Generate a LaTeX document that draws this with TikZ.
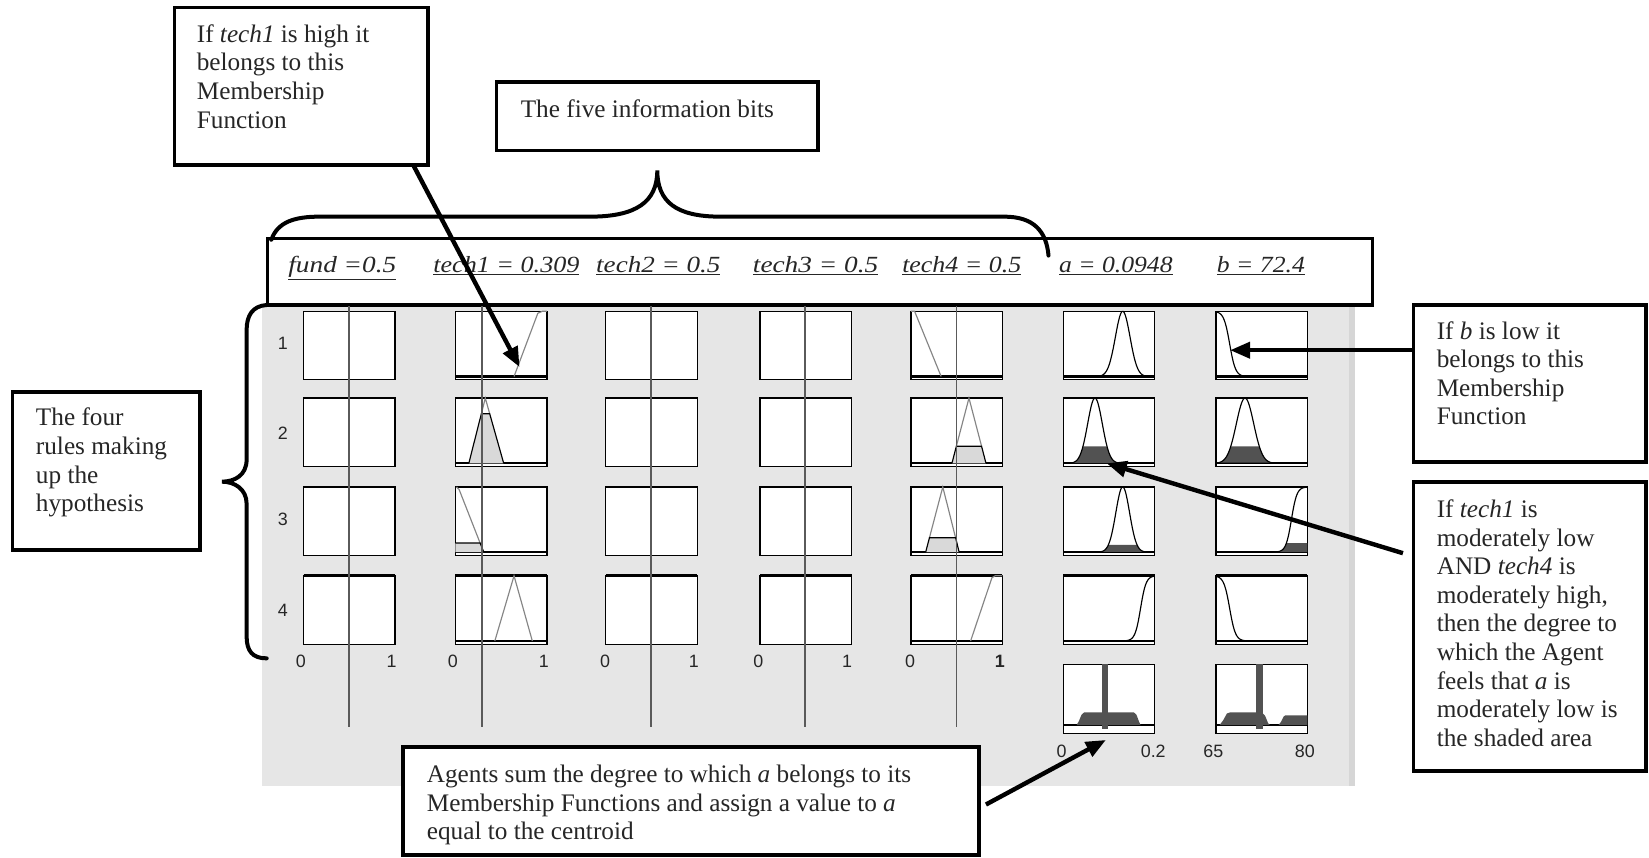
\documentclass[tikz,border=0pt]{standalone}
\usepackage{fontspec}
\setmainfont{Liberation Serif}
\newfontfamily\arialf{Liberation Sans}
\usetikzlibrary{arrows.meta}
\definecolor{panelgray}{HTML}{E6E6E6}
\definecolor{paneledge}{HTML}{D6D6D6}
\definecolor{lightfill}{HTML}{D9D9D9}
\definecolor{darkfill}{HTML}{525252}
\definecolor{mfline}{HTML}{858585}
\definecolor{invline}{HTML}{5A5A5A}
\tikzset{
  callout/.style={draw=black, line width=3.5pt, fill=white, inner sep=0pt, outer sep=0pt, anchor=north west},
  calltext/.style={inner sep=0pt, anchor=base west, text=black!85, font=\fontsize{24}{27.2}\selectfont},
  ptr/.style={line width=4.2pt, -{Triangle[length=19pt,width=15pt]}},
  bracel/.style={line width=3.8pt, line cap=round},
  mfbox/.style={draw=black, line width=1.2pt, fill=white},
  baseln/.style={line width=2.2pt},
  thickedge/.style={line width=2.6pt},
  mfl/.style={draw=mfline, line width=1.1pt},
  mfk/.style={draw=black, line width=1.1pt},
  invl/.style={draw=invline, line width=1.6pt},
  axlbl/.style={font=\arialf\fontsize{17}{17}\selectfont, inner sep=0pt, text=black!85},
  hdrlbl/.style={font=\fontsize{22}{22}\selectfont\itshape, inner sep=0pt, anchor=base, text=black!85},
}
\begin{document}
\begin{tikzpicture}[x=1pt,y=-1pt]
\useasboundingbox (0,0) rectangle (1568,815);
\fill[white] (0,0) rectangle (1568,815);
% grey viewer panel
\fill[panelgray] (249,291) rectangle (1288,747);
\fill[paneledge] (1283,291) rectangle (1288,747);
% header box
\node[draw=black, line width=3pt, fill=white, inner sep=0pt, outer sep=0pt, anchor=north west,
      minimum width=1051pt, minimum height=63.4pt] (hdr) at (254,226.6) {};
\node[hdrlbl] (hfund) at (325.5,259) {\scalebox{1.18}[1]{\underline{fund =0.5}}};
\node[hdrlbl] (htech1) at (481.5,259) {\scalebox{1.13}[1]{\underline{tech1 = 0.309}}};
\node[hdrlbl] (htech2) at (626,259) {\scalebox{1.17}[1]{\underline{tech2 = 0.5}}};
\node[hdrlbl] (htech3) at (775.5,259) {\scalebox{1.18}[1]{\underline{tech3 = 0.5}}};
\node[hdrlbl] (htech4) at (914.5,259) {\scalebox{1.12}[1]{\underline{tech4 = 0.5}}};
\node[hdrlbl] (ha) at (1061,259) {\scalebox{1.11}[1]{\underline{a = 0.0948}}};
\node[hdrlbl] (hb) at (1199,259) {\scalebox{1.11}[1]{\underline{b = 72.4}}};

% membership-function boxes
\foreach \cx in {288.7,433.1,576.1,722.7,866.2,1011,1156.2} {
  \foreach \ry in {296,378.5,463,547.5} {
    \draw[mfbox] (\cx,\ry) rectangle ++(87,65);
  }
  \draw[thickedge] (\cx,547.5) -- ++(87,0);
}
\foreach \cx in {433.1,866.2,1011,1156.2} {
  \foreach \by in {358,440.5,525,609.5} {
    \draw[baseln] (\cx,\by) -- ++(87,0);
  }
}
\foreach \ry in {296,378.5,463,547.5} \draw[thickedge] (866.2,\ry) -- ++(0,65);
% output boxes
\draw[mfbox] (1011,631.7) rectangle ++(87,65.6);
\draw[mfbox] (1156.2,631.7) rectangle ++(87,65.6);
\draw[baseln] (1011,689.4) -- ++(87,0);
\draw[baseln] (1156.2,689.4) -- ++(87,0);

% tech1 column
\begin{scope}[shift={(433.1,358)},x=87pt,y=62pt]
  \draw[mfl] (0.64,0) -- (0.9,0.97) -- (0.95,1) -- (1,1);
\end{scope}
\begin{scope}[shift={(433.1,440.5)},x=87pt,y=62pt]
  \fill[lightfill] (0.146,0) -- (0.283,0.76) -- (0.374,0.76) -- (0.527,0) -- cycle;
  \draw[mfl] (0.283,0.76) -- (0.326,1) -- (0.374,0.76);
  \draw[mfk] (0.146,0) -- (0.283,0.76) -- (0.374,0.76) -- (0.527,0);
\end{scope}
\begin{scope}[shift={(433.1,525)},x=87pt,y=62pt]
  \fill[lightfill] (0,0) -- (0,0.14) -- (0.269,0.14) -- (0.31,0) -- cycle;
  \draw[mfl] (0.01,1) -- (0.04,0.96) -- (0.269,0.14);
  \draw[mfk] (0,0.14) -- (0.269,0.14) -- (0.31,0);
\end{scope}
\begin{scope}[shift={(433.1,609.5)},x=87pt,y=62pt]
  \draw[mfl] (0.43,0) -- (0.64,1) -- (0.84,0);
\end{scope}
% tech4 column
\begin{scope}[shift={(866.2,358)},x=87pt,y=62pt]
  \draw[mfl] (0,1) -- (0.04,1) -- (0.33,0);
\end{scope}
\begin{scope}[shift={(866.2,440.5)},x=87pt,y=62pt]
  \fill[lightfill] (0.448,0) -- (0.496,0.26) -- (0.772,0.26) -- (0.82,0) -- cycle;
  \draw[mfl] (0.496,0.26) -- (0.634,1) -- (0.772,0.26);
  \draw[mfk] (0.448,0) -- (0.496,0.26) -- (0.772,0.26) -- (0.82,0);
\end{scope}
\begin{scope}[shift={(866.2,525)},x=87pt,y=62pt]
  \fill[lightfill] (0.161,0) -- (0.202,0.22) -- (0.488,0.22) -- (0.527,0) -- cycle;
  \draw[mfl] (0.202,0.22) -- (0.348,1) -- (0.488,0.22);
  \draw[mfk] (0.161,0) -- (0.202,0.22) -- (0.488,0.22) -- (0.527,0);
\end{scope}
\begin{scope}[shift={(866.2,609.5)},x=87pt,y=62pt]
  \draw[mfl] (0.652,0) -- (0.885,0.97) -- (0.92,1) -- (1,1);
\end{scope}
% a column
\begin{scope}[shift={(1011,358)},x=87pt,y=62pt]
  \draw[mfk] plot[domain=0.38:0.92,samples=60] (\x,{exp(-((\x-0.65)^2)/(2*0.08^2))});
\end{scope}
\begin{scope}[shift={(1011,440.5)},x=87pt,y=62pt]
  \fill[darkfill] plot[domain=0.08:0.62,samples=60] (\x,{min(0.26,exp(-((\x-0.347)^2)/(2*0.08^2)))}) -- cycle;
  \draw[mfk] plot[domain=0.08:0.62,samples=60] (\x,{exp(-((\x-0.347)^2)/(2*0.08^2))});
\end{scope}
\begin{scope}[shift={(1011,525)},x=87pt,y=62pt]
  \fill[darkfill] plot[domain=0.4:0.9,samples=60] (\x,{min(0.11,exp(-((\x-0.65)^2)/(2*0.075^2)))}) -- cycle;
  \draw[mfk] plot[domain=0.4:0.9,samples=60] (\x,{exp(-((\x-0.65)^2)/(2*0.075^2))});
\end{scope}
\begin{scope}[shift={(1011,609.5)},x=87pt,y=62pt]
  \draw[mfk] plot[domain=0.62:1,samples=50] (\x,{1/(1+exp(-(\x-0.845)/0.03))});
\end{scope}
% b column
\begin{scope}[shift={(1156.2,358)},x=87pt,y=62pt]
  \draw[mfk] plot[domain=0:0.36,samples=50] (\x,{1/(1+exp((\x-0.15)/0.032))});
\end{scope}
\begin{scope}[shift={(1156.2,440.5)},x=87pt,y=62pt]
  \fill[darkfill] plot[domain=0.03:0.61,samples=60] (\x,{min(0.26,exp(-((\x-0.318)^2)/(2*0.095^2)))}) -- cycle;
  \draw[mfk] plot[domain=0.03:0.61,samples=60] (\x,{exp(-((\x-0.318)^2)/(2*0.095^2))});
\end{scope}
\begin{scope}[shift={(1156.2,525)},x=87pt,y=62pt]
  \fill[darkfill] (1,0) -- plot[domain=0.62:1,samples=50] (\x,{min(0.14,1/(1+exp(-(\x-0.825)/0.03)))}) -- cycle;
  \draw[mfk] plot[domain=0.62:1,samples=50] (\x,{1/(1+exp(-(\x-0.825)/0.03))});
\end{scope}
\begin{scope}[shift={(1156.2,609.5)},x=87pt,y=62pt]
  \draw[mfk] plot[domain=0:0.36,samples=50] (\x,{1/(1+exp((\x-0.15)/0.032))});
\end{scope}
% aggregated outputs with centroid bars
\begin{scope}[shift={(1011,689.4)},x=87pt,y=57.7pt]
  \fill[darkfill] (0.146,0) -- (0.17,0.06) -- (0.2,0.17) -- (0.23,0.21) -- (0.77,0.21) -- (0.8,0.17) -- (0.83,0.05) -- (0.845,0) -- cycle;
  \fill[darkfill] (0.419,-0.06) rectangle (0.493,1);
\end{scope}
\begin{scope}[shift={(1156.2,689.4)},x=87pt,y=57.7pt]
  \fill[darkfill] (0.04,0) -- (0.08,0.08) -- (0.12,0.19) -- (0.16,0.21) -- (0.5,0.21) -- (0.538,0.15) -- (0.57,0.03) -- (0.59,0) -- (0.684,0) -- (0.71,0.05) -- (0.74,0.14) -- (0.76,0.16) -- (1,0.16) -- (1,0) -- cycle;
  \fill[darkfill] (0.442,-0.06) rectangle (0.516,1);
\end{scope}

% input value lines
\foreach \vx in {331.6,458.6,619.1,765.3,909.6} \draw[invl] (\vx,291) -- (\vx,691);

% rule numbers and axis labels
\node[axlbl] (r1) at (269,326) {1};
\node[axlbl] (r2) at (269,412) {2};
\node[axlbl] (r3) at (269,494) {3};
\node[axlbl] (r4) at (269,580) {4};
\node[axlbl] (x1a) at (286,629) {0};   \node[axlbl] (x1b) at (372.4,629) {1};
\node[axlbl] (x2a) at (430.6,629) {0}; \node[axlbl] (x2b) at (517.2,629) {1};
\node[axlbl] (x3a) at (575.4,629) {0}; \node[axlbl] (x3b) at (659.8,629) {1};
\node[axlbl] (x4a) at (721,629) {0};   \node[axlbl] (x4b) at (805.4,629) {1};
\node[axlbl] (x5a) at (865.3,629) {0}; \node[axlbl] (x5b) at (950.8,629) {\textbf{1}};
\node[axlbl] (x6a) at (1009.5,714.7) {0}; \node[axlbl] (x6b) at (1096.6,714.7) {0.2};
\node[axlbl] (x7a) at (1153.7,714.7) {65}; \node[axlbl] (x7b) at (1240.8,714.7) {80};

% braces
\draw[bracel] (258,228) .. controls (264,211) and (280,206) .. (304,206) -- (561,206)
  .. controls (605,206) and (625,192) .. (625,162)
  .. controls (625,192) and (643,206) .. (685,206) -- (955,206)
  .. controls (983,206) and (995,220) .. (997,243);
\draw[bracel] (253.6,290) .. controls (240,291) and (234.5,300) .. (234.5,314) -- (234.5,437)
  .. controls (234.5,452) and (223,458) .. (211,458)
  .. controls (223,458) and (234.5,465) .. (234.5,479) -- (234.5,605)
  .. controls (234.5,619) and (240,626) .. (253.6,626);

% callout boxes
\node[callout, minimum width=241pt, minimum height=150pt] (tbhigh) at (166,7) {};
\node[calltext] (tbhight) at (187,40.3) {\parbox[t]{215pt}{\raggedright If \textit{tech1} is high it\\belongs to this\\Membership\\Function}};
\node[callout, minimum width=306pt, minimum height=65pt] (tbfive) at (472,78) {};
\node[calltext] (tbfivet) at (495,111.6) {The five information bits};
\node[callout, minimum width=178pt, minimum height=150pt] (tbfour) at (12,373) {};
\node[calltext] (tbfourt) at (34,405) {\parbox[t]{150pt}{\raggedright The four\\rules making\\up the\\hypothesis}};
\node[callout, minimum width=221pt, minimum height=149pt] (tblow) at (1344,290) {};
\node[calltext] (tblowt) at (1366,322.4) {\parbox[t]{195pt}{\raggedright If \textit{b} is low it\\belongs to this\\Membership\\Function}};
\node[callout, minimum width=221pt, minimum height=275pt] (tbrule) at (1344,458) {};
\node[calltext] (tbrulet) at (1366,492) {\parbox[t]{195pt}{\raggedright If \textit{tech1} is\\moderately low\\AND \textit{tech4} is\\moderately high,\\then the degree to\\which the Agent\\feels that \textit{a} is\\moderately low is\\the shaded area}};
\node[callout, minimum width=547.5pt, minimum height=103pt] (tbsum) at (383.5,710) {};
\node[calltext] (tbsumt) at (405.7,744) {\parbox[t]{520pt}{\raggedright Agents sum the degree to which \textit{a} belongs to its\\Membership Functions and assign a value to \textit{a}\\equal to the centroid}};

% arrow end points
\coordinate (p1s) at (393,157);
\coordinate (p1t) at (494,349);
\coordinate (p2s) at (1344,333);
\coordinate (p2t) at (1169.6,333);
\coordinate (p3s) at (1334,526);
\coordinate (p3t) at (1052.3,440.5);
\coordinate (p4s) at (937.5,765);
\coordinate (p4t) at (1051.6,703.6);
\draw[ptr] (p1s) -- (p1t);
\draw[ptr] (p2s) -- (p2t);
\draw[ptr] (p3s) -- (p3t);
\draw[ptr] (p4s) -- (p4t);
\end{tikzpicture}
\end{document}
